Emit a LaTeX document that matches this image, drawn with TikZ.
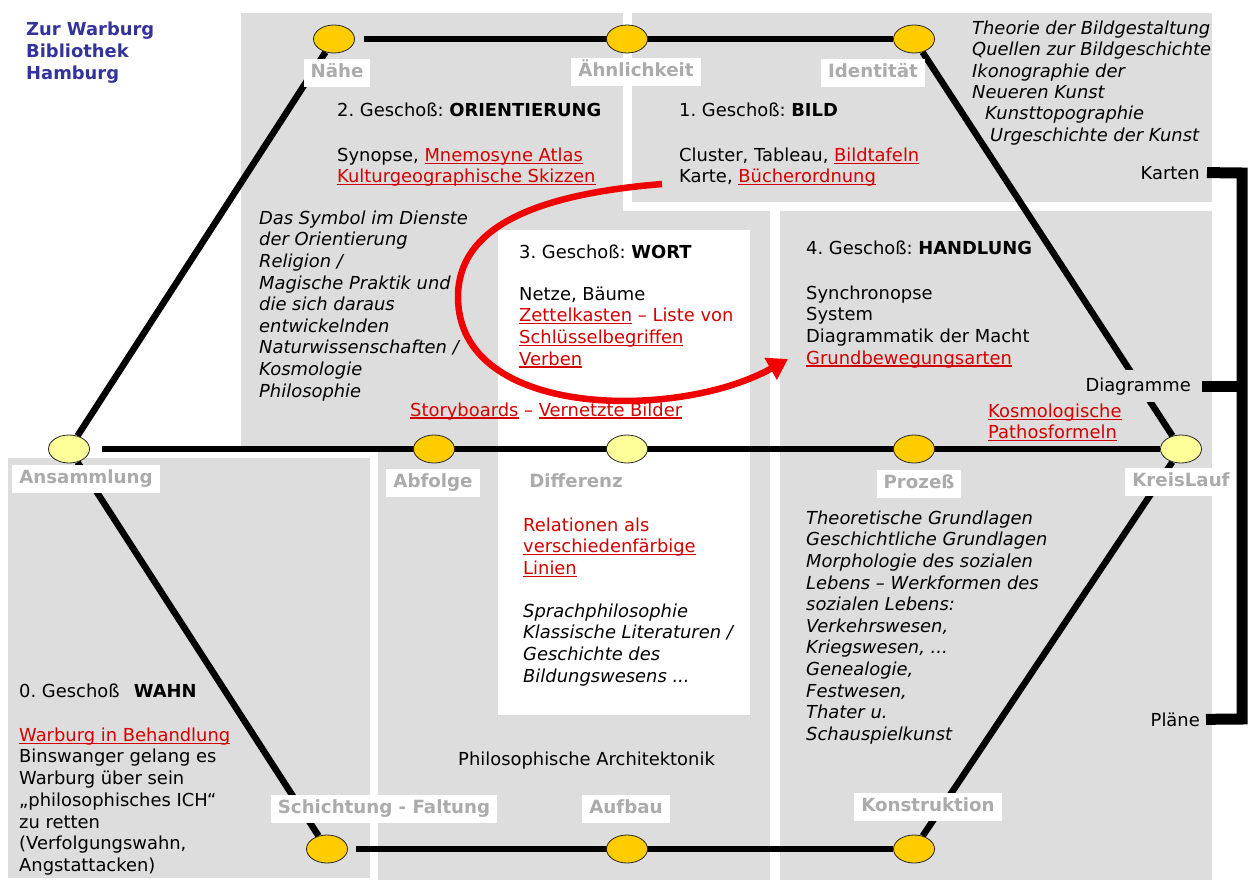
\documentclass[tikz,border=0pt]{standalone}
\usepackage{fontspec}
\setmainfont{DejaVu Sans}[ItalicFont={DejaVu Sans Oblique},BoldFont={DejaVu Sans Bold},BoldItalicFont={DejaVu Sans Bold Oblique}]
\usetikzlibrary{shapes.geometric,arrows.meta}
\definecolor{boxgrey}{HTML}{DDDDDD}
\definecolor{lblgrey}{HTML}{ABABAB}
\definecolor{txtred}{HTML}{D40000}
\definecolor{arrred}{HTML}{F00000}
\definecolor{warblue}{HTML}{333399}
\definecolor{dotorange}{HTML}{FFCC00}
\definecolor{dotyellow}{HTML}{FFFF99}
\newsavebox\myulbox
\newcommand{\myul}[1]{\sbox\myulbox{#1}\rlap{\rule[-2.6pt]{\wd\myulbox}{1.3pt}}\usebox\myulbox}
\newcommand{\ulr}[1]{\textcolor{txtred}{\myul{#1}}}
\newcommand{\rtxt}[1]{\textcolor{txtred}{#1}}
\newcommand{\fl}{\rule{0pt}{14pt}}
\frenchspacing
\pgfdeclarelayer{boxes}
\pgfdeclarelayer{lines}
\pgfsetlayers{boxes,lines,main}
\begin{document}
\frenchspacing
\begin{tikzpicture}[x=1pt,y=-1pt,
  every node/.style={inner sep=0pt, font=\fontsize{17.9}{21.6}\selectfont},
  txt/.style={anchor=base west, align=left},
  mtxt/.style={anchor=north west, align=left, yshift=14pt},
  rtx/.style={anchor=base east, align=right},
  ital/.style={mtxt, font=\fontsize{17.9}{21.6}\selectfont\itshape},
  station/.style={ellipse, draw=black!85, line width=0.8pt, minimum width=41pt, minimum height=28pt},
  orangedot/.style={station, fill=dotorange},
  yellowdot/.style={station, fill=dotyellow},
  lbl/.style={fill=white, text=lblgrey, font=\fontsize{18.2}{21}\selectfont\bfseries, text height=13pt, text depth=3.5pt, inner ysep=5.5pt, inner xsep=7pt},
  track/.style={line width=6.5pt, black},
  greybox/.style={fill=boxgrey},
  bracketline/.style={line width=11pt, black},
  redarrow/.style={line width=6.5pt, arrred, -{Triangle[length=20pt,width=24pt]}},
]
\useasboundingbox (0,0) rectangle (1260,891);

% grey floor boxes
\begin{pgfonlayer}{boxes}
\fill[white] (0,0) rectangle (1260,891);
\fill[greybox] (241,13) rectangle (623,446);
\fill[greybox] (241,211) rectangle (770,446);
\fill[greybox] (378,446) rectangle (770,880);
\fill[greybox] (632,13) rectangle (1212,202);
\fill[greybox] (780,211) rectangle (1212,880);
\fill[greybox] (8,458) rectangle (370,878);
\fill[white] (498,230) rectangle (750,715);
\end{pgfonlayer}

% stations
\node[orangedot] (eN) at (334,39) {};
\node[orangedot] (eAe) at (627,39) {};
\node[orangedot] (eI) at (914,39) {};
\node[yellowdot] (eAn) at (69,449) {};
\node[orangedot] (eAb) at (434,449) {};
\node[yellowdot] (eD) at (627,449) {};
\node[orangedot] (eP) at (914,449) {};
\node[yellowdot] (eK) at (1181,449) {};
\node[orangedot] (eS) at (327,849) {};
\node[orangedot] (eAu) at (627,849) {};
\node[orangedot] (eKo) at (914,849) {};

% tracks
\begin{pgfonlayer}{lines}
\draw[track, shorten <=9pt] (eN) -- (eI);
\draw[track, shorten <=12pt] (eAn) -- (eK);
\draw[track, shorten <=8pt] (eS) -- (eKo);
\draw[track] (eAn) -- (eN);
\draw[track] (eI) -- (eK);
\draw[track] (eAn) -- (eS);
\draw[track] (eK) -- (eKo);
\end{pgfonlayer}

% station labels
\node[lbl] (lN) at (337,73) {Nähe};
\node[lbl] (lAe) at (636,72) {Ähnlichkeit};
\node[lbl] (lI) at (873,73) {Identität};
\node[lbl] (lAn) at (86,479) {Ansammlung};
\node[lbl] (lAb) at (433,483) {Abfolge};
\node[lbl] (lD) at (576,483) {Differenz};
\node[lbl] (lP) at (919,484) {Prozeß};
\node[lbl] (lK) at (1181,482) {KreisLauf};
\node[lbl] (lS) at (384,809) {Schichtung - Faltung};
\node[lbl] (lAu) at (626,809) {Aufbau};
\node[lbl] (lKo) at (928,807) {Konstruktion};

% title
\node[mtxt, text=warblue, font=\fontsize{17.9}{21.9}\selectfont\bfseries] (title) at (26,35) {\fl Zur Warburg\\Bibliothek\\Hamburg};

% 2. floor
\node[txt] (t2) at (337,116) {2. Geschoß: \textbf{ORIENTIERUNG}};
\node[mtxt] (t2b) at (337,161) {\fl Synopse, \ulr{Mnemosyne Atlas}\\\ulr{Kulturgeographische Skizzen}};
\node[ital] (sym) at (259,224) {\fl Das Symbol im Dienste\\der Orientierung\\Religion /\\Magische Praktik und\\die sich daraus\\entwickelnden\\Naturwissenschaften /\\Kosmologie\\Philosophie};
\node[txt] (story) at (410,416) {\ulr{Storyboards} \rtxt{–} \ulr{Vernetzte Bilder}};

% 1. floor
\node[txt] (t1) at (679,116) {1. Geschoß: \textbf{BILD}};
\node[mtxt] (t1b) at (679,161) {\fl Cluster, Tableau, \ulr{Bildtafeln}\\Karte, \ulr{Bücherordnung}};
\node[ital, font=\fontsize{17.9}{21.4}\selectfont\itshape] (t1c) at (972,34) {\fl Theorie der Bildgestaltung\\Quellen zur Bildgeschichte\\Ikonographie der\\Neueren Kunst\\\hspace*{13pt}Kunsttopographie\\\hspace*{18pt}Urgeschichte der Kunst};

% 3. floor
\node[txt] (t3) at (519,258) {3. Geschoß: \textbf{WORT}};
\node[mtxt] (t3b) at (519,300) {\fl Netze, Bäume\\\ulr{Zettelkasten} \rtxt{– Liste von}\\\ulr{Schlüsselbegriffen}\\\ulr{Verben}};
\node[mtxt, text=txtred] (rel) at (523,531) {\fl Relationen als\\\myul{verschiedenfärbige}\\\myul{Linien}};
\node[ital] (sprach) at (523,617) {\fl Sprachphilosophie\\Klassische Literaturen /\\Geschichte des\\Bildungswesens ...};
\node[txt] (arch) at (458,765) {Philosophische Architektonik};

% 4. floor
\node[txt] (t4) at (806,254) {4. Geschoß: \textbf{HANDLUNG}};
\node[mtxt] (t4b) at (806,299) {\fl Synchronopse\\System\\Diagrammatik der Macht\\\ulr{Grundbewegungsarten}};
\node[mtxt] (kosmo) at (988,417) {\fl\ulr{Kosmologische}\\\ulr{Pathosformeln}};
\node[ital] (theo) at (806,524) {\fl Theoretische Grundlagen\\Geschichtliche Grundlagen\\Morphologie des sozialen\\Lebens – Werkformen des\\sozialen Lebens:\\Verkehrswesen,\\Kriegswesen, ...\\Genealogie,\\Festwesen,\\Thater u.\\Schauspielkunst};

% 0. floor
\node[txt] (t0) at (19,697) {0. Geschoß\hspace{0.8em}\textbf{WAHN}};
\node[mtxt, font=\fontsize{17.9}{21.7}\selectfont] (t0b) at (19,741) {\fl\ulr{Warburg in Behandlung}\\Binswanger gelang es\\Warburg über sein\\„philosophisches ICH“\\zu retten\\(Verfolgungswahn,\\Angstattacken)};

% bracket: Karten / Diagramme / Pläne
\node[rtx] (karten) at (1200,179) {Karten};
\node[rtx, fill=boxgrey, inner xsep=4pt, inner ysep=7pt] (diagr) at (1195,391) {Diagramme};
\node[rtx] (plaene) at (1200,726) {Pläne};
\coordinate (bkTop) at (1242,173);
\coordinate (bkBot) at (1242,719);
\draw[bracketline] ([xshift=7pt]karten.east) -- (bkTop) -- (bkBot) -- ([xshift=6pt]plaene.east);
\draw[bracketline] ([xshift=7pt]diagr.east) -- (diagr.east -| bkTop);

% red arrow
\coordinate (arrS) at (662,184);
\coordinate (arrM) at (458,297);
\coordinate (arrE) at (788,359);
\draw[redarrow] (arrS) .. controls (540,194) and (458,225) .. (arrM) .. controls (458,420) and (680,420) .. (arrE);
\end{tikzpicture}
\end{document}
